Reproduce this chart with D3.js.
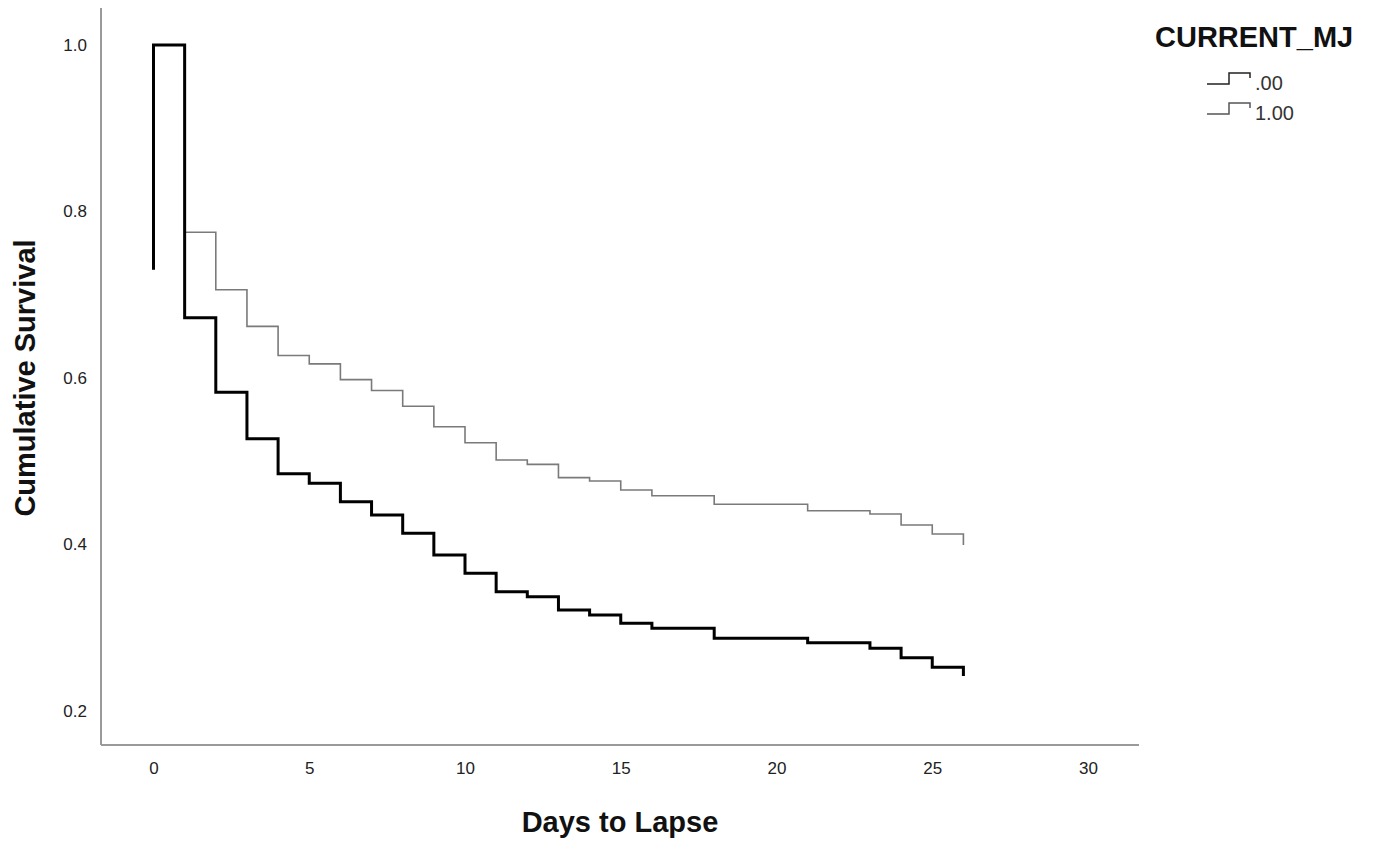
<!DOCTYPE html>
<html><head><meta charset="utf-8">
<script src="https://cdn.jsdelivr.net/npm/d3@7"></script>
<style>body{margin:0;background:#fff;} svg{display:block;font-family:"Liberation Sans",Arial,sans-serif;}</style>
</head><body>
<svg id="chart" width="1374" height="842"></svg>
<script>
// Group .00 (thick black)
const timesA = [0, 0, 1, 2, 3, 4, 5, 6, 7, 8, 9, 10, 11, 12, 13, 14, 15, 16, 18, 21, 23, 24, 25, 26];
const survA  = [0.73, 1.0, 0.6725, 0.583, 0.527, 0.485, 0.4735, 0.4514, 0.4354, 0.4135, 0.3874, 0.3654, 0.3433, 0.3373, 0.3213, 0.3153, 0.3053, 0.2993, 0.2873, 0.282, 0.2753, 0.264, 0.2525, 0.242];
// Group 1.00 (thin gray)
const timesB = [0, 1, 2, 3, 4, 5, 6, 7, 8, 9, 10, 11, 12, 13, 14, 15, 16, 18, 21, 23, 24, 25, 26];
const survB  = [1.0, 0.775, 0.706, 0.662, 0.627, 0.617, 0.598, 0.585, 0.566, 0.5415, 0.5223, 0.5015, 0.4963, 0.4803, 0.4763, 0.4655, 0.4586, 0.4483, 0.4406, 0.4366, 0.4234, 0.4126, 0.3994];
const xTicks = [0, 5, 10, 15, 20, 25, 30];
const yTicks = [0.2, 0.4, 0.6, 0.8, 1.0];
const legendTitle = "CURRENT_MJ";
const legendLabels = [".00", "1.00"];

(function () {
const svg = d3.select("#chart");
const x = d3.scaleLinear().domain([0, 30]).range([153.5, 1088]);
const y = d3.scaleLinear().domain([0.2, 1.0]).range([711, 45]);
const axisColor = "#9a9a9a";
const pl = 101, pr = 1139, pt = 8, pb = 745;

// axis lines
svg.append("line").attr("x1", pl).attr("x2", pl).attr("y1", pt).attr("y2", pb)
  .attr("stroke", axisColor).attr("stroke-width", 2);
svg.append("line").attr("x1", pl).attr("x2", pr).attr("y1", pb).attr("y2", pb)
  .attr("stroke", axisColor).attr("stroke-width", 2);

// y axis labels
const ya = svg.append("g").attr("transform", `translate(${pl},0)`)
  .call(d3.axisLeft(y).tickValues(yTicks).tickSize(0).tickPadding(14).tickFormat(d3.format(".1f")));
ya.select(".domain").remove();
ya.selectAll("text").attr("font-size", 17).attr("fill", "#222").attr("font-family", "Liberation Sans, Arial, sans-serif");

// x axis labels
const xa = svg.append("g").attr("transform", `translate(0,${pb})`)
  .call(d3.axisBottom(x).tickValues(xTicks).tickSize(0).tickPadding(17).tickFormat(d3.format("d")));
xa.select(".domain").remove();
xa.selectAll("text").attr("font-size", 17).attr("fill", "#222").attr("font-family", "Liberation Sans, Arial, sans-serif");

// titles
svg.append("text").attr("x", 620).attr("y", 832).attr("text-anchor", "middle")
  .attr("font-size", 29).attr("font-weight", "bold").attr("fill", "#111").text("Days to Lapse");
svg.append("text").attr("transform", "translate(35,378) rotate(-90)").attr("text-anchor", "middle")
  .attr("font-size", 29).attr("font-weight", "bold").attr("fill", "#111").text("Cumulative Survival");

// curves
const line = d3.line().x(d => x(d[0])).y(d => y(d[1])).curve(d3.curveStepAfter);
const dataA = timesA.map((t, i) => [t, survA[i]]);
const dataB = timesB.map((t, i) => [t, survB[i]]);
svg.append("path").datum(dataB).attr("d", line).attr("fill", "none")
  .attr("stroke", "#7a7a7a").attr("stroke-width", 1.6);
svg.append("path").datum(dataA).attr("d", line).attr("fill", "none")
  .attr("stroke", "#000").attr("stroke-width", 3);

// legend
svg.append("text").attr("x", 1155).attr("y", 47).attr("font-size", 29).attr("font-weight", "bold")
  .attr("fill", "#111").text(legendTitle);
const legColors = ["#222", "#555"];
legendLabels.forEach((lab, i) => {
  const oy = 84 + i * 30;
  svg.append("path")
    .attr("d", `M1207,${oy} H1229 V${oy - 11} H1250 V${oy - 6}`)
    .attr("fill", "none").attr("stroke", legColors[i]).attr("stroke-width", 1.5);
  svg.append("text").attr("x", 1255).attr("y", oy + 6).attr("font-size", 20)
    .attr("fill", "#333").text(lab);
});
})();
</script>
</body></html>
